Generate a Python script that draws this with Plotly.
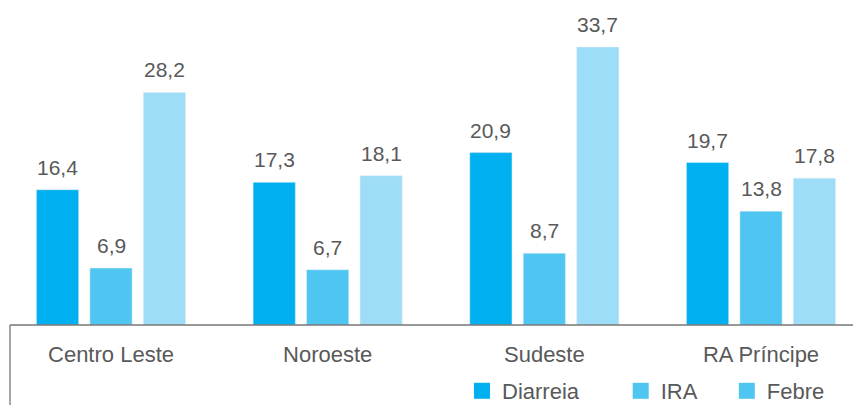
import plotly.graph_objects as go

categories = ["Centro Leste", "Noroeste", "Sudeste", "RA Príncipe"]
diarreia = [16.4, 17.3, 20.9, 19.7]
ira = [6.9, 6.7, 8.7, 13.8]
febre = [28.2, 18.1, 33.7, 17.8]
series_names = ["Diarreia", "IRA", "Febre"]

bar_colors = ["#00B0F0", "#4FC6F2", "#9DDDF7"]
legend_colors = ["#00B0F0", "#4FC6F2", "#4FC6F2"]
legend_pad = [6, 4, 0]  # non-breaking spaces appended to widen entries

W, H = 853, 405
FONT = "Liberation Sans, Arial, sans-serif"
TXT = "#595959"
BARGAP = 0.26
BARGROUPGAP = 0.21
PLOT_H = 325

fig = go.Figure()
xs = list(range(len(categories)))
all_vals = [diarreia, ira, febre]
for name, vals, col in zip(series_names, all_vals, bar_colors):
    fig.add_trace(go.Bar(
        x=xs, y=vals, name=name, marker_color=col, showlegend=False,
    ))
for name, col, pad in zip(series_names, legend_colors, legend_pad):
    fig.add_trace(go.Scatter(x=[None], y=[None], name=name + "\u00a0" * pad, mode="markers",
                             marker=dict(color=col, symbol="square", size=16),
                             showlegend=True))

# value labels placed at the grouped-bar slot centres
slot = (1 - BARGAP) / len(series_names)
annotations = []
for k, vals in enumerate(all_vals):
    off = (k - (len(series_names) - 1) / 2) * slot
    for i, v in enumerate(vals):
        annotations.append(dict(
            x=i + off, y=v, xref="x", yref="y", text=f"{v:.1f}".replace(".", ","),
            showarrow=False, yanchor="bottom", yshift=9,
            font=dict(size=21, color=TXT, family=FONT)))

px_per_cat = 216.67
c0 = 111
x_lo = -c0 / px_per_cat
x_hi = (W - c0) / px_per_cat

fig.update_layout(
    width=W, height=H,
    margin=dict(l=0, r=0, t=0, b=H - PLOT_H, autoexpand=False),
    paper_bgcolor="white", plot_bgcolor="white",
    barmode="group", bargap=BARGAP, bargroupgap=BARGROUPGAP,
    font=dict(family=FONT, size=20, color=TXT),
    xaxis=dict(range=[x_lo, x_hi], tickvals=xs, ticktext=categories,
               showline=False, showgrid=False, zeroline=False,
               ticks="outside", ticklen=10, tickcolor="rgba(0,0,0,0)",
               tickfont=dict(size=22, color=TXT, family=FONT)),
    yaxis=dict(range=[0, 39.4], visible=False),
    legend=dict(orientation="h", x=462 / W, xanchor="left",
                y=-(391 - PLOT_H) / PLOT_H, yanchor="middle",
                bgcolor="rgba(0,0,0,0)",
                font=dict(size=22, color=TXT, family=FONT),
                itemwidth=30, traceorder="normal"),
    annotations=annotations,
    shapes=[
        dict(type="line", xref="paper", yref="paper", x0=10/W, x1=1, y0=0, y1=0,
             line=dict(color="#767676", width=1.3)),
        dict(type="line", xref="paper", yref="paper", x0=10/W, x1=10/W, y0=0,
             y1=-(H - PLOT_H) / PLOT_H, line=dict(color="#767676", width=1.3)),
    ],
)
fig.write_html("out.html", config={"displayModeBar": False})

with open("out.html", "r", encoding="utf-8") as f:
    html = f.read()
html = html.replace("<head>", "<head><style>html,body{margin:0;padding:0;overflow:hidden;}</style>", 1)
with open("out.html", "w", encoding="utf-8") as f:
    f.write(html)
